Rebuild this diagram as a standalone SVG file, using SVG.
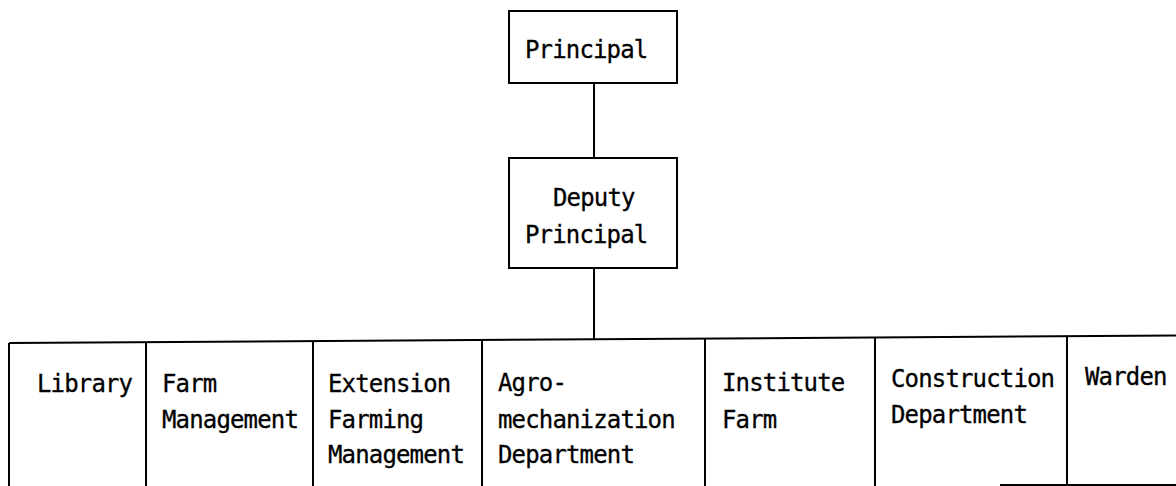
<svg xmlns="http://www.w3.org/2000/svg" width="1176" height="486" viewBox="0 0 1176 486">
<style>
.box{fill:#fff;stroke:#000;stroke-width:2}
.ln{stroke:#000;stroke-width:2;fill:none}
text{font-family:"DejaVu Sans Mono","Liberation Mono",monospace;font-size:24px;letter-spacing:-0.85px;fill:#000;stroke:#000;stroke-width:0.3}
</style>
<rect width="1176" height="486" fill="#fff"/>
<g id="connectors">
<line class="ln" x1="594" y1="83" x2="594" y2="158"/>
<line class="ln" x1="594" y1="268" x2="594" y2="340"/>
</g>
<g id="principal">
<rect class="box" x="509" y="11" width="168" height="72"/>
<text x="525" y="58">Principal</text>
</g>
<g id="deputy-principal">
<rect class="box" x="509" y="158" width="168" height="110"/>
<text x="553" y="206">Deputy</text>
<text x="525" y="243">Principal</text>
</g>
<g id="department-row">
<line class="ln" x1="9" y1="343" x2="1176" y2="335.5"/>
<line class="ln" x1="1000" y1="485" x2="1176" y2="485"/>
<line class="ln" x1="9" y1="343" x2="9" y2="486"/>
<line class="ln" x1="146" y1="342" x2="146" y2="486"/>
<line class="ln" x1="313" y1="341" x2="313" y2="486"/>
<line class="ln" x1="482" y1="340" x2="482" y2="486"/>
<line class="ln" x1="705" y1="339" x2="705" y2="486"/>
<line class="ln" x1="875" y1="338" x2="875" y2="486"/>
<line class="ln" x1="1067" y1="337" x2="1067" y2="486"/>
</g>
<g id="library">
<text x="37" y="392">Library</text>
</g>
<g id="farm-management">
<text x="162" y="392">Farm</text>
<text x="162" y="428">Management</text>
</g>
<g id="extension-farming-management">
<text x="328" y="392">Extension</text>
<text x="328" y="428">Farming</text>
<text x="328" y="463">Management</text>
</g>
<g id="agro-mechanization-department">
<text x="498" y="391">Agro-</text>
<text x="498" y="428">mechanization</text>
<text x="498" y="463">Department</text>
</g>
<g id="institute-farm">
<text x="722" y="391">Institute</text>
<text x="722" y="428">Farm</text>
</g>
<g id="construction-department">
<text x="891" y="387">Construction</text>
<text x="891" y="423">Department</text>
</g>
<g id="warden">
<text x="1085" y="385">Warden</text>
</g>
</svg>
